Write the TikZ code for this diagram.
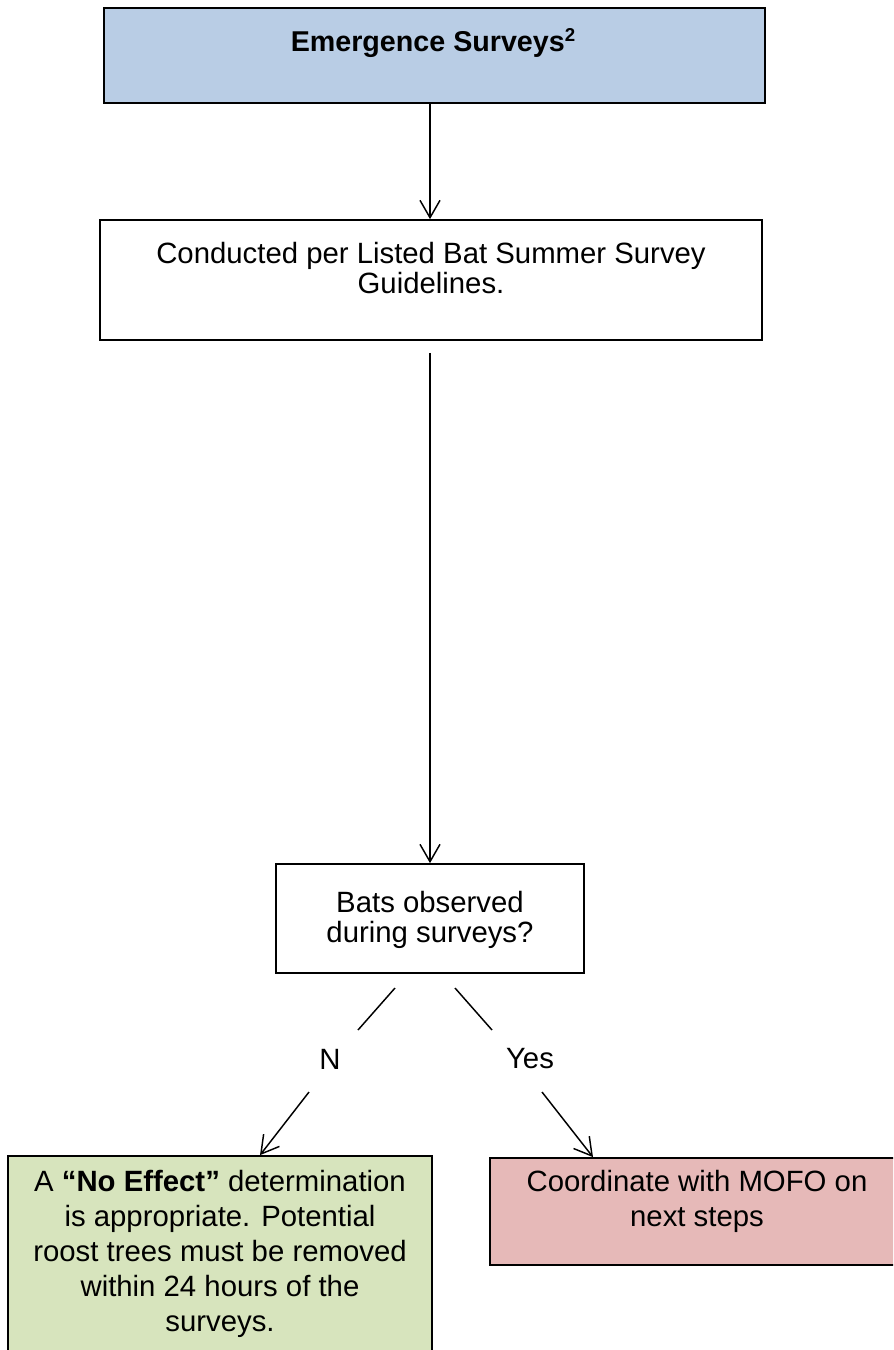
\documentclass[tikz,border=0pt]{standalone}
\usepackage{fontspec}
\setmainfont{Liberation Sans}
\usetikzlibrary{arrows.meta,calc}
\definecolor{boxblue}{HTML}{B9CDE5}
\definecolor{boxgreen}{HTML}{D7E4BD}
\definecolor{boxred}{HTML}{E6B9B8}
\tikzset{
  frame/.style={draw=black, line width=1.3pt, inner sep=0pt},
  txt/.style={align=center, inner sep=0pt, font=\fontsize{22pt}{22.5pt}\selectfont},
  txtwide/.style={align=center, inner sep=0pt, font=\fontsize{22pt}{26.25pt}\selectfont},
  arr/.style={line width=1.1pt, -{Straight Barb[length=13pt,width=15pt,line width=1.1pt]}},
  plain/.style={line width=1.1pt},
}
\begin{document}
\begin{tikzpicture}[x=0.75pt,y=-0.75pt]
\clip (0,0) rectangle (893,1350);
% boxes
\node[frame, fill=boxblue, minimum width=661*0.75pt, minimum height=95*0.75pt] (top) at (434.5,55.5) {};
\node[frame, fill=white, minimum width=662*0.75pt, minimum height=120*0.75pt] (cond) at (431,280) {};
\node[frame, fill=white, minimum width=308*0.75pt, minimum height=109*0.75pt] (bats) at (430,918.5) {};
\node[frame, fill=boxgreen, minimum width=424*0.75pt, minimum height=220*0.75pt] (noeff) at (220,1266) {};
\node[frame, fill=boxred, minimum width=420*0.75pt, minimum height=107*0.75pt] (mofo) at (700,1211.5) {};
% texts
\node[txt, font=\bfseries\fontsize{21.5pt}{22.5pt}\selectfont] (ttop) at (433,43) {Emergence Surveys{\fontsize{14pt}{14pt}\selectfont\raisebox{7.5pt}{2}}};
\node[txt] (tcond) at (431,268) {Conducted per Listed Bat Summer Survey\\Guidelines.};
\node[txt] (tbats) at (430,920) {Bats observed\\during surveys?};
\node[txtwide] (tnoeff) at (220,1254) {A \textbf{“No Effect”} determination\\is appropriate. Potential\\roost trees must be removed\\within 24 hours of the\\surveys.};
\node[txtwide] (tmofo) at (697,1201) {Coordinate with MOFO on\\next steps};
\node[txt] (lN) at (330,1059) {N};
\node[txt] (lY) at (530,1059) {Yes};
% connectors
\draw[arr] (top.south -| 430,0) -- (cond.north -| 430,0);
\draw[arr] ($(cond.south -| 430,0)+(0,12)$) -- (bats.north -| 430,0);
\coordinate (l1) at (395,988);
\coordinate (l2) at (358,1030);
\coordinate (l3) at (309,1092);
\coordinate (r1) at (455,988);
\coordinate (r2) at (492,1030);
\coordinate (r3) at (542,1092);
\draw[plain] (l1) -- (l2);
\draw[arr] (l3) -- (noeff.north -| 260,0);
\draw[plain] (r1) -- (r2);
\draw[arr] (r3) -- (mofo.north -| 593,0);
\end{tikzpicture}
\end{document}
